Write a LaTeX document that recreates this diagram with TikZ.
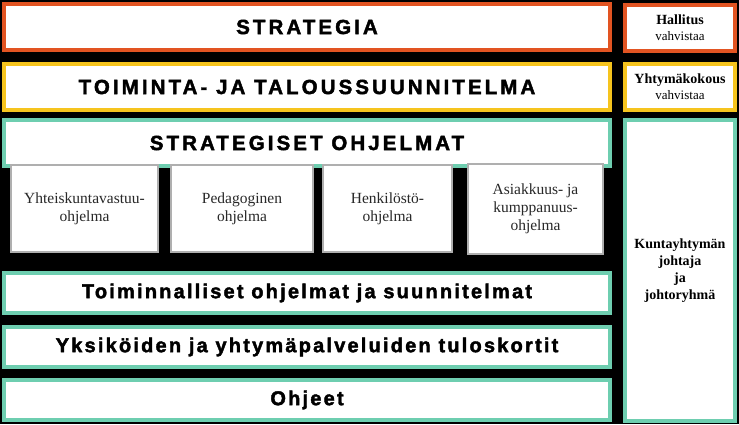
\documentclass[tikz,border=0pt]{standalone}
\usepackage{fontspec}
\setmainfont{Liberation Serif}
\newfontfamily\titlefont[LetterSpace=15,FakeBold=2]{Liberation Sans Bold}
\newfontfamily\subtitlefont[LetterSpace=11,FakeBold=2]{Liberation Sans Bold}
\definecolor{orangeb}{RGB}{226,84,34}
\definecolor{yellowb}{RGB}{246,196,30}
\definecolor{tealb}{RGB}{110,206,176}
\definecolor{greyb}{RGB}{175,175,175}
\definecolor{subtext}{RGB}{40,40,40}
\tikzset{
  big/.style={draw, line width=4pt, fill=white, rectangle, inner sep=0pt, outer sep=0pt, align=center},
  sub/.style={draw=greyb, line width=2pt, fill=white, rectangle, inner sep=0pt, outer sep=0pt, align=center, text=subtext, font=\fontsize{15.5}{18}\selectfont},
  side/.style={draw, line width=4pt, fill=white, rectangle, inner sep=0pt, outer sep=0pt, align=center, minimum width=110pt},
  ttl/.style={font=\titlefont\fontsize{20.5}{22}\selectfont},
  lttl/.style={font=\subtitlefont\fontsize{20}{22}\selectfont},
}
\begin{document}
\begin{tikzpicture}[x=1pt,y=-1pt]
\fill[black] (0,0) rectangle (739,424);
\useasboundingbox (0,0) rectangle (739,424);
% main column
\node[big, draw=orangeb, minimum width=606pt, minimum height=46pt, ttl] (strat) at (307,27) {STRATEGIA};
\node[big, draw=yellowb, minimum width=606pt, minimum height=46pt, ttl] (tts) at (307,87) {TOIMINTA- JA TALOUSSUUNNITELMA};
\node[big, draw=tealb, minimum width=606pt, minimum height=46pt] (sohj) at (307,143) {};
\node[ttl] (sohjt) at (307,143) {STRATEGISET OHJELMAT};
\node[sub, minimum width=147pt, minimum height=87pt] (p1) at (84.5,208.5) {Yhteiskuntavastuu-\\ohjelma};
\node[sub, minimum width=142pt, minimum height=87pt] (p2) at (242,208.5) {Pedagoginen\\ohjelma};
\node[sub, minimum width=129pt, minimum height=87pt] (p3) at (387.5,208.5) {Henkilöstö-\\ohjelma};
\node[sub, minimum width=135pt, minimum height=90pt] (p4) at (535.5,209) {Asiakkuus- ja\\kumppanuus-\\ohjelma};
\node[big, draw=tealb, minimum width=606pt, minimum height=40pt, lttl] (toim) at (307,293) {Toiminnalliset ohjelmat ja suunnitelmat};
\node[big, draw=tealb, minimum width=606pt, minimum height=40pt, lttl] (yks) at (307,347) {Yksiköiden ja yhtymäpalveluiden tuloskortit};
\node[big, draw=tealb, minimum width=606pt, minimum height=40pt, lttl] (ohj) at (307,400) {Ohjeet};
% side column
\node[side, draw=orangeb, minimum height=46pt, font=\fontsize{13}{16}\selectfont] (hall) at (680,28) {\textbf{\fontsize{14}{16}\selectfont Hallitus}\\vahvistaa};
\node[side, draw=yellowb, minimum height=46pt, font=\fontsize{13}{16}\selectfont] (yht) at (680,87) {\textbf{\fontsize{14}{16}\selectfont Yhtymäkokous}\\vahvistaa};
\node[side, draw=tealb, minimum height=301pt, font=\bfseries\fontsize{14}{17}\selectfont] (kunt) at (680,270.5) {Kuntayhtymän\\johtaja\\ja\\johtoryhmä};
\end{tikzpicture}
\end{document}
